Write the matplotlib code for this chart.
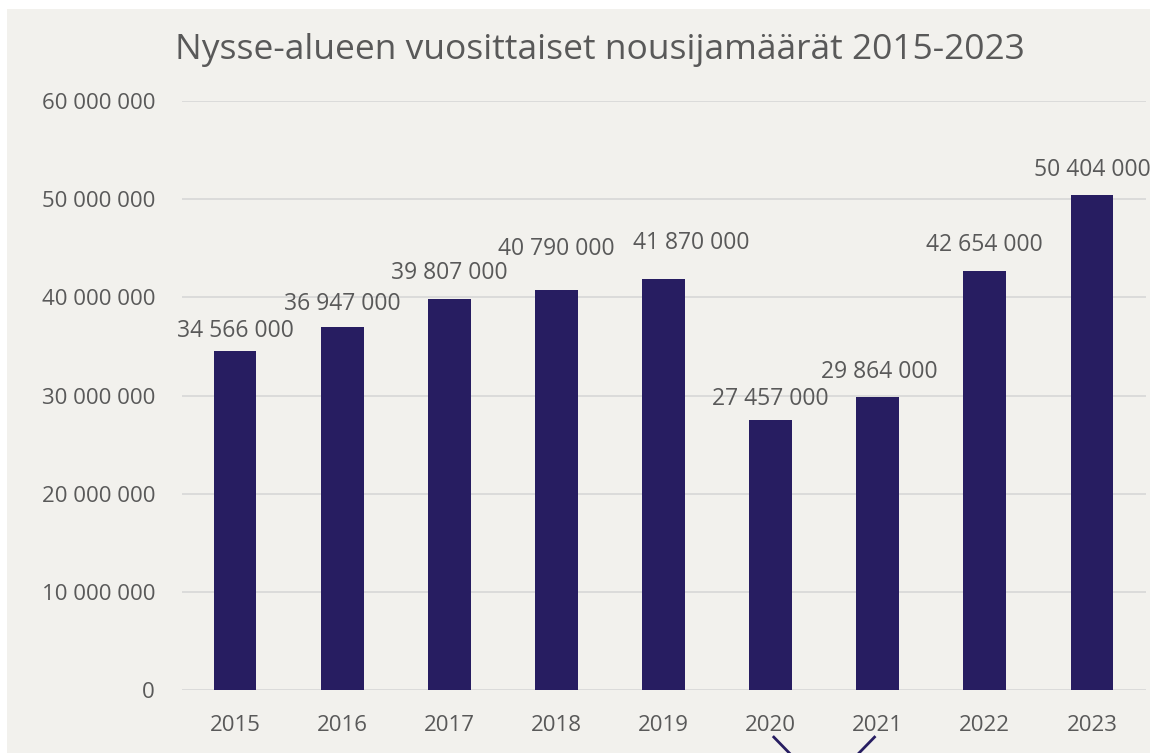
import matplotlib.pyplot as plt
from matplotlib.patches import Rectangle
import matplotlib.transforms as mtransforms

# data
years = ["2015", "2016", "2017", "2018", "2019", "2020", "2021", "2022", "2023"]
riders = [34566000, 36947000, 39807000, 40790000, 41870000,
          27457000, 29864000, 42654000, 50404000]
yticks = [0, 10000000, 20000000, 30000000, 40000000, 50000000, 60000000]

# value label placement relative to bar top (pixels), as in the original
label_lift = [20, 23, 26, 41, 36, 21, 25, 26, 25]
label_shift = [0, 0, 0, 0, 28, 0, 2, 0, 0]

bg = "#f2f1ed"
bar_color = "#271d61"
text_color = "#595959"

plt.rcParams['font.family'] = ['Open Sans', 'DejaVu Sans']


def fmt(v):
    return f"{v:,}".replace(",", " ")


fig = plt.figure(figsize=(11.5, 7.53), dpi=100)
fig.patch.set_facecolor("white")
# panel background (white margin on left and top as in the screenshot)
fig.patches.append(Rectangle((7 / 1150, 0), 1, 1 - 9 / 753,
                             transform=fig.transFigure, facecolor=bg,
                             edgecolor="none", zorder=-1))

ax = fig.add_axes([181.5 / 1150, 63 / 753, 964 / 1150, 589 / 753])
ax.set_facecolor(bg)
ax.patch.set_alpha(0)

x = range(len(years))
ax.bar(x, riders, width=0.40, color=bar_color, zorder=3)

for i, v in enumerate(riders):
    ax.annotate(fmt(v), (i, v),
                xytext=(label_shift[i] * 0.72, label_lift[i] * 0.72),
                textcoords="offset points", ha="center", va="center",
                fontsize=16.5, color=text_color, annotation_clip=False)

ax.set_xlim(-0.5, len(years) - 0.5)
ax.set_ylim(0, 60000000)
ax.set_yticks(yticks)
ax.set_yticklabels([fmt(t) for t in yticks])
ax.set_xticks(list(x))
ax.set_xticklabels(years)
ax.tick_params(axis="y", length=0, pad=19, labelsize=16, labelcolor=text_color)
ax.tick_params(axis="x", length=0, pad=18, labelsize=16, labelcolor=text_color)
ax.grid(axis="y", color="#d9d9d9", linewidth=1.3, zorder=0)
for s in ax.spines.values():
    s.set_visible(False)

ax.set_title("Nysse-alueen vuosittaiset nousijamäärät 2015-2023",
             fontsize=25.5, color=text_color, pad=30, x=0.434)

# annotation lines leaving the chart below 2020 and 2021
trans = mtransforms.blended_transform_factory(ax.transData, ax.transAxes)
ax.plot([5 + 0.03, 5 + 0.18], [-0.080, -0.108], color=bar_color,
        linewidth=2, transform=trans, clip_on=False)
ax.plot([6 - 0.03, 6 - 0.18], [-0.080, -0.108], color=bar_color,
        linewidth=2, transform=trans, clip_on=False)

fig.savefig("out.png", dpi=100, facecolor=fig.get_facecolor())
